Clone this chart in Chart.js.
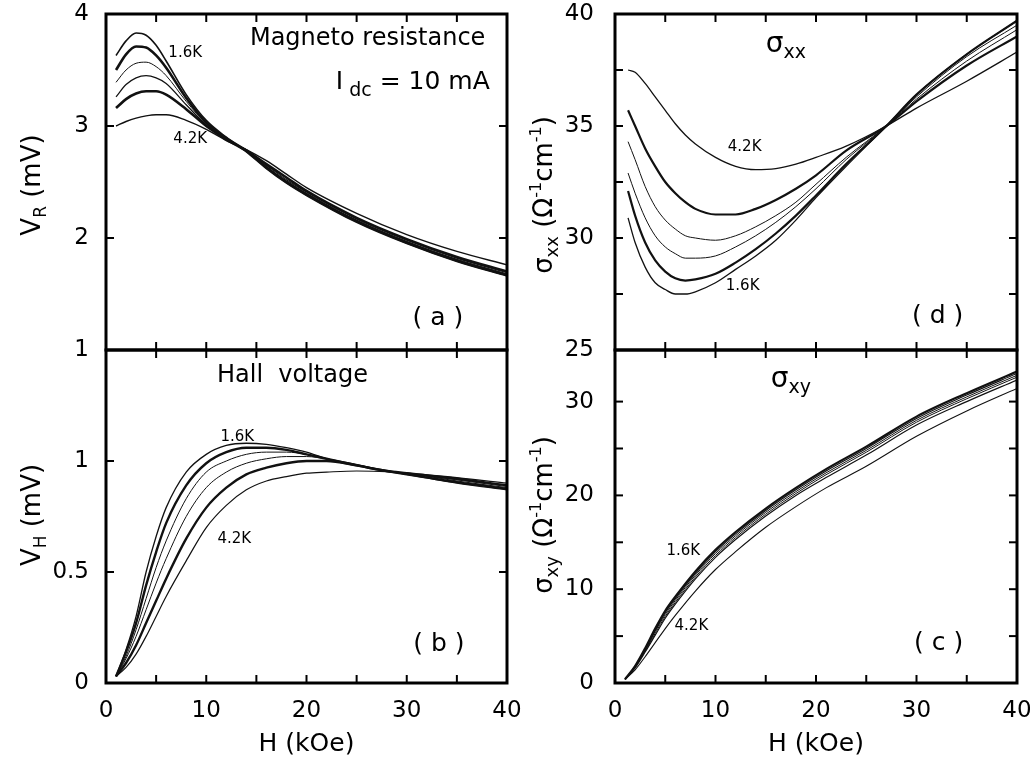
<!DOCTYPE html>
<html>
<head>
<meta charset="utf-8">
<script src="https://cdn.jsdelivr.net/npm/chart.js@4.4.0/dist/chart.umd.min.js"></script>
<style>
body { margin: 0; background: #fff; width: 1030px; height: 765px; overflow: hidden; position: relative; }
.box { position: absolute; }
</style>
</head>
<body>
<div class="box" style="left:0;top:0;width:530px;height:366px"><canvas id="chartA"></canvas></div>
<div class="box" style="left:0;top:340px;width:530px;height:425px"><canvas id="chartB"></canvas></div>
<div class="box" style="left:520px;top:0;width:510px;height:366px"><canvas id="chartD"></canvas></div>
<div class="box" style="left:520px;top:340px;width:510px;height:425px"><canvas id="chartC"></canvas></div>
<script>
const temps = ['1.6K', '2.0K', '2.5K', '3.0K', '3.5K', '4.2K'];

// (a) magneto resistance V_R (mV)
const hA = [1, 2, 3, 4, 5, 6, 8, 10, 12, 14, 16, 18, 20, 25, 30, 35, 40];
const vR1 = [3.63, 3.76, 3.83, 3.81, 3.72, 3.58, 3.28, 3.05, 2.90, 2.77, 2.62, 2.49, 2.38, 2.14, 1.95, 1.79, 1.66];
const vR2 = [3.50, 3.64, 3.71, 3.70, 3.63, 3.52, 3.25, 3.03, 2.89, 2.78, 2.63, 2.50, 2.39, 2.15, 1.96, 1.80, 1.67];
const vR3 = [3.39, 3.50, 3.56, 3.57, 3.53, 3.45, 3.22, 3.02, 2.89, 2.78, 2.64, 2.51, 2.40, 2.16, 1.97, 1.81, 1.68];
const vR4 = [3.26, 3.37, 3.43, 3.45, 3.43, 3.38, 3.19, 3.01, 2.88, 2.78, 2.65, 2.52, 2.41, 2.17, 1.98, 1.82, 1.69];
const vR5 = [3.16, 3.24, 3.29, 3.31, 3.31, 3.28, 3.15, 3.00, 2.88, 2.78, 2.66, 2.54, 2.42, 2.18, 1.99, 1.83, 1.70];
const vR6 = [3.00, 3.04, 3.07, 3.09, 3.10, 3.10, 3.05, 2.97, 2.87, 2.79, 2.69, 2.57, 2.45, 2.22, 2.03, 1.88, 1.76];

// (b) Hall voltage V_H (mV)
const hB = [1, 2, 3, 4, 5, 6, 8, 10, 12, 14, 16, 18, 20, 22, 25, 28, 30, 35, 40];
const vH1 = [0.03, 0.15, 0.30, 0.50, 0.66, 0.79, 0.95, 1.03, 1.07, 1.08, 1.075, 1.06, 1.04, 1.01, 0.98, 0.955, 0.94, 0.90, 0.87];
const vH2 = [0.03, 0.14, 0.27, 0.44, 0.59, 0.72, 0.89, 0.99, 1.04, 1.06, 1.06, 1.05, 1.03, 1.01, 0.98, 0.955, 0.94, 0.905, 0.875];
const vH3 = [0.03, 0.12, 0.24, 0.38, 0.52, 0.64, 0.83, 0.95, 1.00, 1.03, 1.04, 1.04, 1.03, 1.01, 0.98, 0.955, 0.945, 0.91, 0.88];
const vH4 = [0.03, 0.11, 0.21, 0.33, 0.45, 0.56, 0.75, 0.88, 0.95, 0.99, 1.01, 1.02, 1.02, 1.01, 0.985, 0.955, 0.945, 0.915, 0.885];
const vH5 = [0.03, 0.09, 0.17, 0.27, 0.37, 0.47, 0.65, 0.79, 0.88, 0.94, 0.97, 0.99, 1.00, 1.00, 0.98, 0.955, 0.945, 0.92, 0.89];
const vH6 = [0.03, 0.07, 0.13, 0.21, 0.30, 0.39, 0.55, 0.70, 0.80, 0.87, 0.91, 0.93, 0.945, 0.95, 0.955, 0.952, 0.945, 0.925, 0.90];

// (d) sigma_xx
const hD = [1.3, 2, 3, 4, 5, 6, 7, 8, 10, 12, 14, 16, 18, 20, 23, 27, 30, 35, 40];
const sxx1 = [30.9, 29.8, 28.7, 28.0, 27.7, 27.5, 27.5, 27.6, 28.0, 28.6, 29.2, 29.9, 30.8, 31.8, 33.2, 35.0, 36.4, 38.2, 39.7];
const sxx2 = [32.1, 31.0, 29.8, 29.0, 28.5, 28.2, 28.1, 28.15, 28.4, 28.9, 29.5, 30.2, 31.0, 31.9, 33.3, 35.0, 36.4, 38.2, 39.7];
const sxx3 = [32.9, 32.0, 30.9, 30.1, 29.6, 29.3, 29.1, 29.1, 29.2, 29.6, 30.1, 30.7, 31.4, 32.2, 33.5, 35.0, 36.3, 38.1, 39.5];
const sxx4 = [34.3, 33.5, 32.3, 31.4, 30.8, 30.4, 30.1, 30.0, 29.9, 30.1, 30.5, 31.0, 31.6, 32.4, 33.6, 35.0, 36.2, 37.9, 39.3];
const sxx5 = [35.7, 35.0, 34.0, 33.2, 32.5, 32.0, 31.6, 31.3, 31.05, 31.05, 31.3, 31.7, 32.2, 32.8, 33.9, 35.0, 36.1, 37.7, 39.0];
const sxx6 = [37.5, 37.4, 36.9, 36.3, 35.7, 35.1, 34.6, 34.2, 33.6, 33.2, 33.05, 33.1, 33.3, 33.6, 34.1, 35.0, 35.8, 37.0, 38.3];

// (c) sigma_xy
const hC = [1, 2, 3, 4, 5, 6, 8, 10, 12, 15, 18, 21, 25, 30, 35, 40];
const sxy1 = [0.4, 1.8, 3.7, 5.8, 7.7, 9.2, 11.9, 14.2, 16.1, 18.6, 20.8, 22.8, 25.2, 28.4, 30.9, 33.2];
const sxy2 = [0.4, 1.8, 3.6, 5.6, 7.5, 9.0, 11.7, 14.0, 15.9, 18.4, 20.6, 22.6, 25.0, 28.2, 30.7, 33.0];
const sxy3 = [0.4, 1.7, 3.5, 5.5, 7.3, 8.8, 11.5, 13.8, 15.7, 18.2, 20.4, 22.4, 24.8, 28.0, 30.5, 32.8];
const sxy4 = [0.4, 1.7, 3.4, 5.3, 7.1, 8.6, 11.3, 13.6, 15.5, 18.0, 20.2, 22.2, 24.6, 27.8, 30.3, 32.6];
const sxy5 = [0.4, 1.6, 3.3, 5.1, 6.9, 8.4, 11.1, 13.4, 15.3, 17.8, 20.0, 21.9, 24.3, 27.5, 30.0, 32.3];
const sxy6 = [0.4, 1.4, 2.8, 4.3, 5.8, 7.2, 9.8, 12.1, 14.0, 16.6, 18.8, 20.8, 23.1, 26.3, 29.0, 31.4];

const FONT = "'DejaVu Sans', 'Liberation Sans', sans-serif";

function series(h, curves, widths) {
    return curves.map((c, i) => ({
        label: temps[i],
        data: h.map((x, j) => ({x: x, y: c[j]})),
        borderColor: '#111',
        borderWidth: widths[i],
        pointRadius: 0,
        cubicInterpolationMode: 'monotone',
        fill: false
    }));
}

// no extra room for overhanging tick labels: plot edges are set by layout padding
function noPad(s) {
    s.paddingTop = 0;
    s.paddingBottom = 0;
    s.paddingLeft = 0;
    s.paddingRight = 0;
}

// draws frame, inward ticks, rotated y title and text notes
const frame = {
    id: 'frame',
    afterDatasetsDraw(chart, args, o) {
        const {ctx, chartArea: a, scales: {x, y}} = chart;
        ctx.save();
        ctx.strokeStyle = '#000';
        ctx.lineWidth = 2;
        const seg = (x1, y1, x2, y2) => { ctx.beginPath(); ctx.moveTo(x1, y1); ctx.lineTo(x2, y2); ctx.stroke(); };
        x.ticks.forEach(t => {
            const px = x.getPixelForValue(t.value);
            if (px - a.left < 4 || a.right - px < 4) return;
            seg(px, a.top, px, a.top + 8);
            seg(px, a.bottom, px, a.bottom - 8);
        });
        y.ticks.forEach(t => {
            const py = y.getPixelForValue(t.value);
            if (py - a.top < 6 || a.bottom - py < 4) return;
            seg(a.left, py, a.left + 8, py);
            seg(a.right, py, a.right - 8, py);
        });
        ctx.lineWidth = 3;
        ctx.strokeRect(a.left, a.top, a.right - a.left, a.bottom - a.top);

        ctx.fillStyle = '#000';
        ctx.textBaseline = 'alphabetic';
        const runs = (list, cx, cy, rot) => {
            ctx.save();
            ctx.translate(cx, cy);
            ctx.rotate(rot);
            let w = 0;
            list.forEach(r => { ctx.font = r[1] + 'px ' + FONT; w += ctx.measureText(r[0]).width; });
            let px = -w / 2;
            list.forEach(r => {
                ctx.font = r[1] + 'px ' + FONT;
                ctx.fillText(r[0], px, r[2] || 0);
                px += ctx.measureText(r[0]).width;
            });
            ctx.restore();
        };
        if (o.title) runs(o.title, o.tx, o.ty, -Math.PI / 2);
        (o.notes || []).forEach(n => {
            runs(n.runs, x.getPixelForValue(n.x), y.getPixelForValue(n.y), 0);
        });
        ctx.restore();
    }
};

function makeChart(id, datasets, cfg) {
    return new Chart(document.getElementById(id), {
        type: 'line',
        data: {datasets: datasets},
        plugins: [frame],
        options: {
            responsive: true,
            maintainAspectRatio: false,
            animation: false,
            layout: {padding: cfg.padding},
            plugins: {
                legend: {display: false},
                tooltip: {enabled: false},
                frame: {title: cfg.title, tx: cfg.tx, ty: cfg.ty, notes: cfg.notes}
            },
            scales: {
                x: {
                    type: 'linear', min: 0, max: 40,
                    grid: {display: false}, border: {display: false},
                    ticks: {
                        display: cfg.xLabels, stepSize: 5, autoSkip: false, maxRotation: 0, padding: 6,
                        color: '#000', font: {family: FONT, size: 23},
                        callback: v => v % 10 === 0 ? v : ''
                    },
                    title: {
                        display: cfg.xLabels, text: 'H (kOe)', color: '#000',
                        font: {family: FONT, size: 25}, padding: {top: 0, bottom: 6}
                    },
                    afterFit: s => { s.height = cfg.xh; noPad(s); }
                },
                y: {
                    type: 'linear', min: cfg.ymin, max: cfg.ymax,
                    grid: {display: false}, border: {display: false},
                    ticks: {
                        stepSize: cfg.ystep, includeBounds: false, autoSkip: false, padding: cfg.ypad,
                        color: '#000', font: {family: FONT, size: 23},
                        callback: cfg.ylabel
                    },
                    afterFit: s => { s.width = cfg.yw; noPad(s); }
                }
            }
        }
    });
}

const note = (x, y, t, size) => ({x: x, y: y, runs: [[t, size]]});

makeChart('chartA', series(hA, [vR1, vR2, vR3, vR4, vR5, vR6], [1.6, 2.6, 1, 1.2, 2.6, 1.4]), {
    padding: {top: 14, right: 23, left: 0, bottom: 0},
    xLabels: false, xh: 16, yw: 106, ypad: 9,
    ymin: 1, ymax: 4, ystep: 1, ylabel: v => v,
    title: [['V', 26], ['R', 17, 6], [' (mV)', 26]], tx: 40, ty: 185,
    notes: [
        note(7.9, 3.62, '1.6K', 15),
        note(8.4, 2.85, '4.2K', 15),
        note(26.1, 3.72, 'Magneto resistance', 24),
        {x: 30.6, y: 3.33, runs: [['I', 25], [' dc', 19, 7], [' = 10 mA', 25]]},
        note(33.1, 1.22, '( a )', 25)
    ]
});

makeChart('chartB', series(hB, [vH1, vH2, vH3, vH4, vH5, vH6], [1.3, 2.4, 1, 1, 2.4, 1.2]), {
    padding: {top: 10, right: 23, left: 0, bottom: 0},
    xLabels: true, xh: 82, yw: 106, ypad: 9,
    ymin: 0, ymax: 1.5, ystep: 0.5, ylabel: v => v > 1.2 ? '' : v,
    title: [['V', 26], ['H', 17, 6], [' (mV)', 26]], tx: 40, ty: 175,
    notes: [
        note(18.6, 1.355, 'Hall  voltage', 24),
        note(13.1, 1.09, '1.6K', 15),
        note(12.8, 0.63, '4.2K', 15),
        note(33.2, 0.145, '( b )', 25)
    ]
});

makeChart('chartD', series(hD, [sxx1, sxx2, sxx3, sxx4, sxx5, sxx6], [1.3, 2.2, 1, 1, 2.2, 1.3]), {
    padding: {top: 14, right: 13, left: 0, bottom: 0},
    xLabels: false, xh: 16, yw: 95, ypad: 13,
    ymin: 25, ymax: 40, ystep: 2.5, ylabel: v => v % 5 === 0 ? v : '',
    title: [['σ', 26], ['xx', 18, 6], [' (Ω', 26], ['-1', 16, -11], ['cm', 26], ['-1', 16, -11], [')', 26]], tx: 32, ty: 195,
    notes: [
        {x: 17.0, y: 38.3, runs: [['σ', 28], ['xx', 19, 6]]},
        note(12.9, 33.9, '4.2K', 15),
        note(12.7, 27.7, '1.6K', 15),
        note(32.1, 26.2, '( d )', 25)
    ]
});

makeChart('chartC', series(hC, [sxy1, sxy2, sxy3, sxy4, sxy5, sxy6], [2.2, 1.2, 1, 1, 1.2, 1.1]), {
    padding: {top: 10, right: 13, left: 0, bottom: 0},
    xLabels: true, xh: 82, yw: 95, ypad: 13,
    ymin: 0, ymax: 35.5, ystep: 5, ylabel: v => v % 10 === 0 ? v : '',
    title: [['σ', 26], ['xy', 18, 6], [' (Ω', 26], ['-1', 16, -11], ['cm', 26], ['-1', 16, -11], [')', 26]], tx: 32, ty: 175,
    notes: [
        {x: 17.5, y: 31.6, runs: [['σ', 28], ['xy', 19, 6]]},
        note(6.8, 13.6, '1.6K', 15),
        note(7.6, 5.7, '4.2K', 15),
        note(32.2, 3.5, '( c )', 25)
    ]
});
</script>
</body>
</html>
